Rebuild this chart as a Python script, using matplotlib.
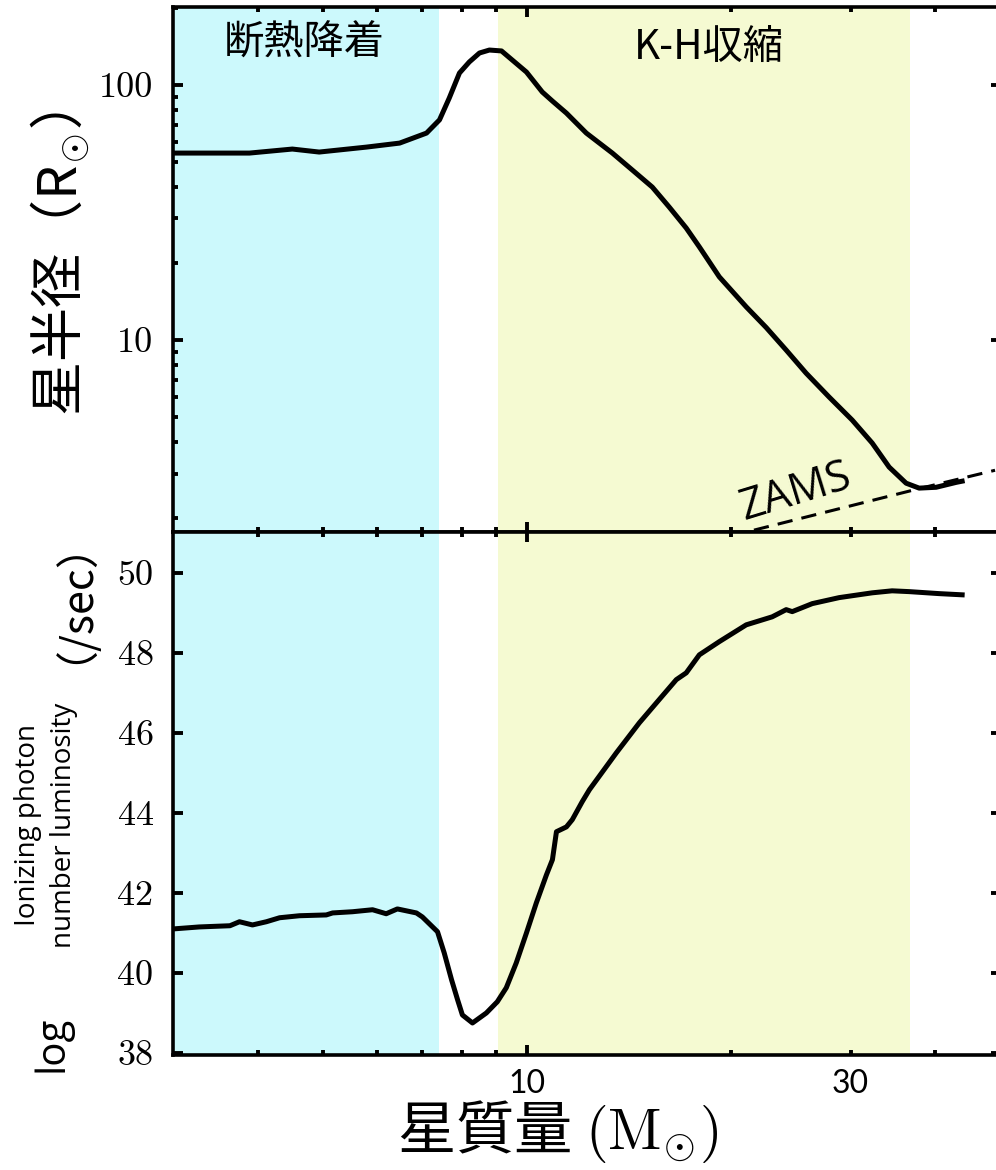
import matplotlib.pyplot as plt
import matplotlib.ticker as mticker

plt.rcParams["mathtext.fontset"] = "cm"

CJK = ["Noto Sans CJK JP", "DejaVu Sans"]
SANS = ["Open Sans", "DejaVu Sans"]

# stellar radius (R_sun) against stellar mass (M_sun)
mass_r = [3.00, 3.89, 4.50, 4.93, 5.79, 6.48, 7.10, 7.42, 7.67, 7.94, 8.21,
          8.50, 8.79, 9.16, 9.50, 9.97, 10.52, 10.89, 11.42, 12.22, 13.35,
          14.29, 15.29, 16.20, 17.16, 17.94, 19.20, 21.04, 22.52, 24.10,
          25.79, 27.89, 30.16, 32.28, 34.19, 36.22, 37.86, 40.11, 42.94, 43.82]
radius = [54.1, 54.1, 56.1, 54.6, 57.1, 59.2, 64.8, 73.0, 88.9, 111.4, 123.1,
          133.5, 137.1, 136.0, 125.3, 112.4, 93.9, 86.5, 77.6, 64.8, 54.1,
          46.4, 39.8, 33.2, 27.5, 23.2, 17.7, 13.5, 11.2, 9.14,
          7.42, 5.98, 4.86, 3.95, 3.18, 2.75, 2.63, 2.65, 2.77, 2.80]

# zero-age main sequence radius
zams_mass = [21.6, 37.9, 49.0]
zams_radius = [1.80, 2.62, 3.09]

# log ionizing photon number luminosity (/sec)
mass_q = [3.00, 3.28, 3.64, 3.76, 3.93, 4.12, 4.31, 4.61, 5.05, 5.16, 5.52,
          5.91, 6.19, 6.43, 6.86, 7.00, 7.37, 7.54, 7.73, 7.89, 8.02, 8.30,
          8.70, 9.03, 9.31, 9.63, 9.97, 10.31, 10.67, 10.89, 11.04, 11.42,
          11.65, 12.05, 12.35, 13.53, 14.63, 15.65, 16.59, 17.16, 17.94,
          19.20, 21.04, 22.98, 24.10, 24.60, 26.33, 28.85, 32.28, 34.54,
          36.60, 40.52, 43.82]
log_q = [41.10, 41.15, 41.18, 41.28, 41.20, 41.28, 41.38, 41.43, 41.45, 41.50,
         41.53, 41.58, 41.48, 41.60, 41.50, 41.40, 41.03, 40.50, 39.83, 39.33,
         38.95, 38.75, 39.00, 39.28, 39.63, 40.25, 41.00, 41.75, 42.45, 42.83,
         43.53, 43.65, 43.83, 44.28, 44.58, 45.50, 46.25, 46.83, 47.33, 47.50,
         47.95, 48.28, 48.70, 48.90, 49.08, 49.03, 49.23, 49.38, 49.50, 49.55,
         49.53, 49.48, 49.45]

# accretion phases
adiabatic_span = (3.0, 7.40)
kh_span = (9.04, 36.7)
phase_labels = ["断熱降着", "K-H収縮"]

x_minor = [4, 5, 6, 7, 8, 9, 20, 30, 40]
x_minor_labels = ["", "", "", "", "", "", "", "30", ""]
q_ticks = [38, 40, 42, 44, 46, 48, 50]

CYAN = "#ccf9fc"
YELLOW = "#f5fad2"

fig = plt.figure(figsize=(9.96, 11.7), dpi=100)
ax1 = fig.add_axes([0.1737, 0.5453, 0.8313, 0.4491])
ax2 = fig.add_axes([0.1737, 0.0983, 0.8313, 0.4470], sharex=ax1)

for ax in (ax1, ax2):
    ax.axvspan(*adiabatic_span, color=CYAN, lw=0, zorder=0)
    ax.axvspan(*kh_span, color=YELLOW, lw=0, zorder=0)
    for sp in ax.spines.values():
        sp.set_linewidth(2.6)
    ax.tick_params(which="both", direction="in", top=True, right=True,
                   width=2.8)
    ax.tick_params(which="major", length=7)
    ax.tick_params(which="minor", length=3.5)

# radius panel
ax1.plot(mass_r, radius, color="black", lw=3.6, zorder=3,
         solid_joinstyle="round")
ax1.plot(zams_mass, zams_radius, color="black", lw=2.2, ls=(0, (5, 3)),
         zorder=3)
ax1.set_xscale("log")
ax1.set_yscale("log")
ax1.set_xlim(3, 50)
ax1.set_ylim(1.77, 203)
ax1.yaxis.set_major_locator(mticker.FixedLocator([10, 100]))
ax1.yaxis.set_major_formatter(mticker.FixedFormatter(["10", "100"]))
ax1.yaxis.set_minor_locator(mticker.LogLocator(subs=range(2, 10)))
ax1.yaxis.set_minor_formatter(mticker.NullFormatter())
ax1.tick_params(axis="y", labelsize=26, labelfontfamily="cmr10", pad=14)
ax1.tick_params(axis="x", which="both", labelbottom=False)

ax1.text(0.158, 0.930, phase_labels[0], transform=ax1.transAxes,
         ha="center", va="center", fontsize=29, family=CJK)
ax1.text(0.647, 0.922, phase_labels[1], transform=ax1.transAxes,
         ha="center", va="center", fontsize=29, family=CJK)
ax1.text(0.752, 0.076, "ZAMS", transform=ax1.transAxes, rotation=17,
         ha="center", va="center", fontsize=31, family=SANS)

# photon luminosity panel
ax2.plot(mass_q, log_q, color="black", lw=3.6, zorder=3,
         solid_joinstyle="round")
ax2.set_ylim(37.95, 51.02)
ax2.set_yticks(q_ticks)
ax2.set_yticklabels([str(v) for v in q_ticks])
ax2.set_xticks([10])
ax2.set_xticklabels(["10"])
ax2.set_xticks(x_minor, minor=True)
ax2.set_xticklabels(x_minor_labels, minor=True)
ax2.tick_params(axis="y", labelsize=26, labelfontfamily="cmr10", pad=14)
ax2.tick_params(axis="x", which="both", labelsize=23, labelfontfamily="Lato",
                pad=10)

# axis titles
fig.text(0.0602, 0.7744, "星半径（R$_{\\odot}$）", rotation=90, ha="center",
         va="center", fontsize=39, family=CJK)
fig.text(0.0522, 0.1077, "log", rotation=90, ha="center", va="center",
         fontsize=29, family=SANS)
fig.text(0.0462, 0.2949, "Ionizing photon\nnumber luminosity", rotation=90,
         ha="center", va="center", multialignment="center", fontsize=20,
         linespacing=1.4, family=SANS)
fig.text(0.0522, 0.5045, "（/sec）", rotation=90, ha="center", va="center",
         fontsize=31, family=CJK)
fig.text(0.560, 0.0325, "星質量 $(\\mathrm{M}_{\\odot})$", ha="center",
         va="center", fontsize=42, family=CJK)

fig.savefig("out.png", dpi=100)
